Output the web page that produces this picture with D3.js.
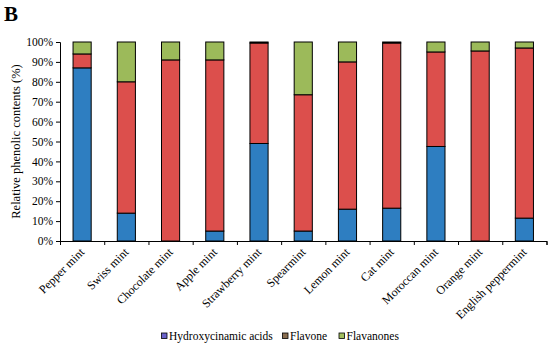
<!DOCTYPE html>
<html><head><meta charset="utf-8">
<script src="https://cdn.jsdelivr.net/npm/d3@7"></script>
<style>body{margin:0;background:#fff}svg{display:block}</style>
</head><body>
<svg id="c" width="550" height="345"></svg>
<script>
const categories = ["Pepper mint","Swiss mint","Chocolate mint","Apple mint","Strawberry mint","Spearmint","Lemon mint","Cat mint","Moroccan mint","Orange mint","English peppermint"];
const seriesNames = ["Hydroxycinamic acids","Flavone","Flavanones"];
const hydroxycinnamic = [87, 14, 0, 5, 49, 5, 16, 16.5, 47.5, 0, 11.5];
const flavone =         [7, 66, 91, 86, 50.5, 68.5, 74, 83, 47.5, 95.5, 85.5];
const flavanones =      [6, 20, 9, 9, 0.5, 26.5, 10, 0.5, 5, 4.5, 3];
const yTicks = [0,10,20,30,40,50,60,70,80,90,100];

const barColors = ["#2e7ec1","#dc4f4c","#9cba5a"];
const legendColors = ["#6a62c8","#8a6e50","#a2be5e"];

const svg = d3.select("#c");
const font = "'Liberation Serif','Times New Roman',serif";
const L = 60, R = 546.5, T = 42, B = 241;

const x = d3.scaleBand().domain(categories).range([L, R]).paddingInner(0.59).paddingOuter(0.295);
const y = d3.scaleLinear().domain([0,100]).range([B, T]);

const rows = categories.map((c,i)=>({cat:c, "Hydroxycinamic acids":hydroxycinnamic[i], "Flavone":flavone[i], "Flavanones":flavanones[i]}));
const stack = d3.stack().keys(seriesNames)(rows);

// title letter
svg.append("text").attr("x",4).attr("y",21).attr("font-family",font).attr("font-weight","bold").attr("font-size",21).text("B");

// bars
stack.forEach((s,si)=>{
  svg.append("g").selectAll("rect").data(s).join("rect")
    .attr("x", d=>x(d.data.cat))
    .attr("width", x.bandwidth())
    .attr("y", d=>y(d[1]))
    .attr("height", d=>Math.max(0, y(d[0])-y(d[1])))
    .attr("fill", barColors[si])
    .attr("stroke","#000").attr("stroke-width",1);
});

// y axis
const yAxis = d3.axisLeft(y).tickValues(yTicks).tickFormat(d=>d+"%").tickSize(4).tickPadding(3);
const gy = svg.append("g").attr("transform",`translate(${L},0)`).call(yAxis);
gy.select(".domain").attr("stroke","#000");
gy.selectAll("text").attr("font-family",font).attr("font-size",11.5).attr("fill","#000");

// x axis line and ticks at band boundaries
const xb = d3.scaleLinear().domain([0,categories.length]).range([L,R]);
const gx = svg.append("g").attr("transform",`translate(0,${B})`)
  .call(d3.axisBottom(xb).tickValues(d3.range(0,categories.length+1)).tickSize(4).tickFormat(""));
gx.select(".domain").attr("stroke","#000");

// x labels
svg.append("g").selectAll("text").data(categories).join("text")
  .attr("transform", d=>`translate(${x(d)+x.bandwidth()/2+3},${B+12}) rotate(-45)`)
  .attr("text-anchor","end")
  .attr("font-family",font).attr("font-size",12).attr("fill","#000")
  .text(d=>d);

// y title
svg.append("text").attr("transform",`translate(20,${(T+B)/2}) rotate(-90)`)
  .attr("text-anchor","middle").attr("font-family",font).attr("font-size",12.5).text("Relative phenolic contents (%)");

// legend
const legX = [161.5, 282.5, 339];
const lg = svg.append("g").selectAll("g").data(seriesNames).join("g")
  .attr("transform",(d,i)=>`translate(${legX[i]},333)`);
lg.append("rect").attr("width",5.5).attr("height",5.5).attr("y",0)
  .attr("fill",(d,i)=>legendColors[i]).attr("stroke","#000").attr("stroke-width",0.8);
lg.append("text").attr("x",7.5).attr("y",7).attr("font-family",font).attr("font-size",11.5).text(d=>d);
</script>
</body></html>
